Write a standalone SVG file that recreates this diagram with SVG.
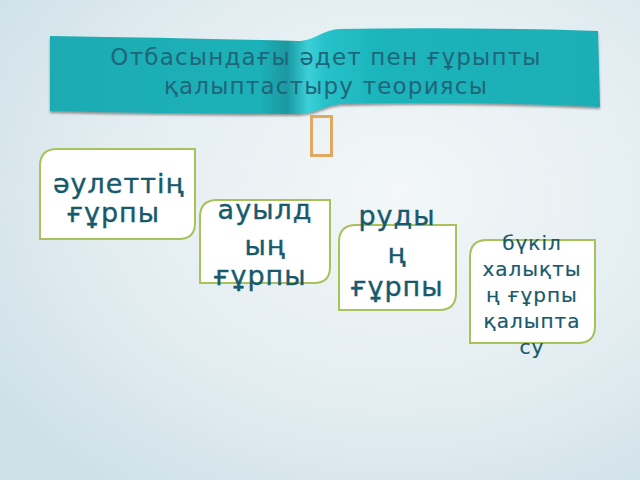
<svg xmlns="http://www.w3.org/2000/svg" width="640" height="480" viewBox="0 0 640 480">
<defs>
<radialGradient id="bg" cx="0.62" cy="0.4" r="0.75">
<stop offset="0" stop-color="#f3f7f8"/>
<stop offset="0.6" stop-color="#e3edf1"/>
<stop offset="1" stop-color="#cfe1e8"/>
</radialGradient>
<linearGradient id="rib" x1="0" y1="0" x2="1" y2="0">
<stop offset="0" stop-color="#1aabb3"/>
<stop offset="0.38" stop-color="#1db1b8"/>
<stop offset="0.43" stop-color="#1a98a0"/>
<stop offset="0.47" stop-color="#3ad0d8"/>
<stop offset="0.5" stop-color="#26c1c9"/>
<stop offset="0.6" stop-color="#1cb4bb"/>
<stop offset="1" stop-color="#1aaeb5"/>
</linearGradient>
<linearGradient id="lineg" x1="0" y1="0" x2="1" y2="0">
<stop offset="0" stop-color="#9fd9ea"/>
<stop offset="0.5" stop-color="#6ec9e3"/>
<stop offset="1" stop-color="#9fd9ea"/>
</linearGradient>
<filter id="sh" x="-5%" y="-10%" width="110%" height="130%">
<feDropShadow dx="0" dy="2" stdDeviation="1.2" flood-color="#555" flood-opacity="0.6"/>
</filter>
</defs>
<style>
.box{fill:#ffffff;stroke:#a8c25a;stroke-width:2}
.t{font-family:"DejaVu Sans","Noto Sans",sans-serif;fill:#175a6d}
.big{font-size:27px;letter-spacing:1px;stroke:#175a6d;stroke-width:0.4}
.sm{font-size:20px;letter-spacing:1px;stroke:#175a6d;stroke-width:0.2}
.title{font-size:23px;fill:#1f6678;letter-spacing:1.2px}
</style>
<rect width="640" height="480" fill="url(#bg)"/>
<g id="banner">
<path d="M50,36 Q180,38 298,41 C314,41 322,30 340,29 Q470,27 598,31 L600,107 Q470,101 342,104 C326,105 318,113 298,114 Q180,114 50,111 Z" fill="url(#rib)" filter="url(#sh)"/>
<text class="t title" x="326" y="65" text-anchor="middle">Отбасындағы әдет пен ғұрыпты</text>
<text class="t title" x="326" y="94" text-anchor="middle">қалыптастыру теориясы</text>
</g>
<g id="divider">
<line x1="82" y1="135" x2="300" y2="135" stroke="url(#lineg)" stroke-width="1.5"/>
<line x1="338" y1="135" x2="556" y2="135" stroke="url(#lineg)" stroke-width="1.5"/>
<rect x="311.5" y="116.5" width="20" height="39" fill="none" stroke="#e1a95f" stroke-width="3"/>
</g>
<g id="node1">
<path class="box" d="M57,149 L195,149 L195,223 Q195,239 179,239 L40,239 L40,166 Q40,149 57,149 Z"/>
<text class="t big" x="53" y="193">әулеттің</text>
<text class="t big" x="67" y="222">ғұрпы</text>
</g>
<g id="node2">
<path class="box" d="M217,200 L330,200 L330,267 Q330,283 314,283 L200,283 L200,217 Q200,200 217,200 Z"/>
<text class="t big" x="265" y="219" text-anchor="middle">ауылд</text>
<text class="t big" x="265" y="255" text-anchor="middle">ың</text>
<text class="t big" x="260" y="285" text-anchor="middle">ғұрпы</text>
</g>
<g id="node3">
<path class="box" d="M356,225 L456,225 L456,293 Q456,310 439,310 L339,310 L339,242 Q339,225 356,225 Z"/>
<text class="t big" x="397" y="225" text-anchor="middle">руды</text>
<text class="t big" x="397" y="263" text-anchor="middle">ң</text>
<text class="t big" x="397" y="296" text-anchor="middle">ғұрпы</text>
</g>
<g id="node4">
<path class="box" d="M487,240 L595,240 L595,326 Q595,343 578,343 L470,343 L470,257 Q470,240 487,240 Z"/>
<text class="t sm" x="532" y="250" text-anchor="middle">бүкіл</text>
<text class="t sm" x="532" y="276" text-anchor="middle">халықты</text>
<text class="t sm" x="532" y="302" text-anchor="middle">ң ғұрпы</text>
<text class="t sm" x="532" y="328" text-anchor="middle">қалыпта</text>
<text class="t sm" x="532" y="354" text-anchor="middle">су</text>
</g>
</svg>
